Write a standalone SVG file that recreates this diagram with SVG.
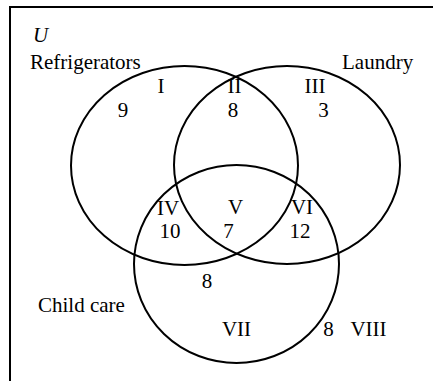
<svg xmlns="http://www.w3.org/2000/svg" width="433" height="381" viewBox="0 0 433 381">
  <style>
    .set { fill: none; stroke: #000; stroke-width: 2; }
    .frame { fill: none; stroke: #000; stroke-width: 2; }
    .lbl { text-anchor: middle; }
  </style>
  <rect width="433" height="381" fill="#fff"/>

  <g font-family="Liberation Serif, DejaVu Serif, serif" font-size="21" fill="#000">
    <!-- universe frame (open on the right and bottom) -->
    <g id="universe">
      <path class="frame" d="M10 381 V7 H433"/>
      <text x="33" y="42" font-style="italic">U</text>
    </g>

    <g id="sets">
      <g id="refrigerators">
        <ellipse class="set" cx="184.5" cy="165.5" rx="113.5" ry="99.5"/>
        <text x="30" y="69">Refrigerators</text>
      </g>
      <g id="laundry">
        <ellipse class="set" cx="287" cy="165" rx="113" ry="99"/>
        <text x="342" y="69">Laundry</text>
      </g>
      <g id="child-care">
        <ellipse class="set" cx="236.5" cy="264" rx="102.5" ry="99"/>
        <text x="38" y="312">Child care</text>
      </g>
    </g>

    <!-- region numerals and counts -->
    <g id="regions">
      <g id="region-I"><text class="lbl" x="161" y="93">I</text><text class="lbl" x="123" y="117">9</text></g>
      <g id="region-II"><text class="lbl" x="234.5" y="93">II</text><text class="lbl" x="233" y="117">8</text></g>
      <g id="region-III"><text class="lbl" x="315" y="93">III</text><text class="lbl" x="323.5" y="117">3</text></g>
      <g id="region-IV"><text class="lbl" x="168" y="215">IV</text><text class="lbl" x="170" y="238">10</text></g>
      <g id="region-V"><text class="lbl" x="235.5" y="214">V</text><text class="lbl" x="228.5" y="238">7</text></g>
      <g id="region-VI"><text class="lbl" x="302" y="214">VI</text><text class="lbl" x="300" y="238">12</text></g>
      <g id="region-VII"><text class="lbl" x="207" y="288">8</text><text class="lbl" x="236.5" y="336">VII</text></g>
      <g id="region-VIII"><text class="lbl" x="328.5" y="336">8</text><text class="lbl" x="368.5" y="336">VIII</text></g>
    </g>
  </g>
</svg>
